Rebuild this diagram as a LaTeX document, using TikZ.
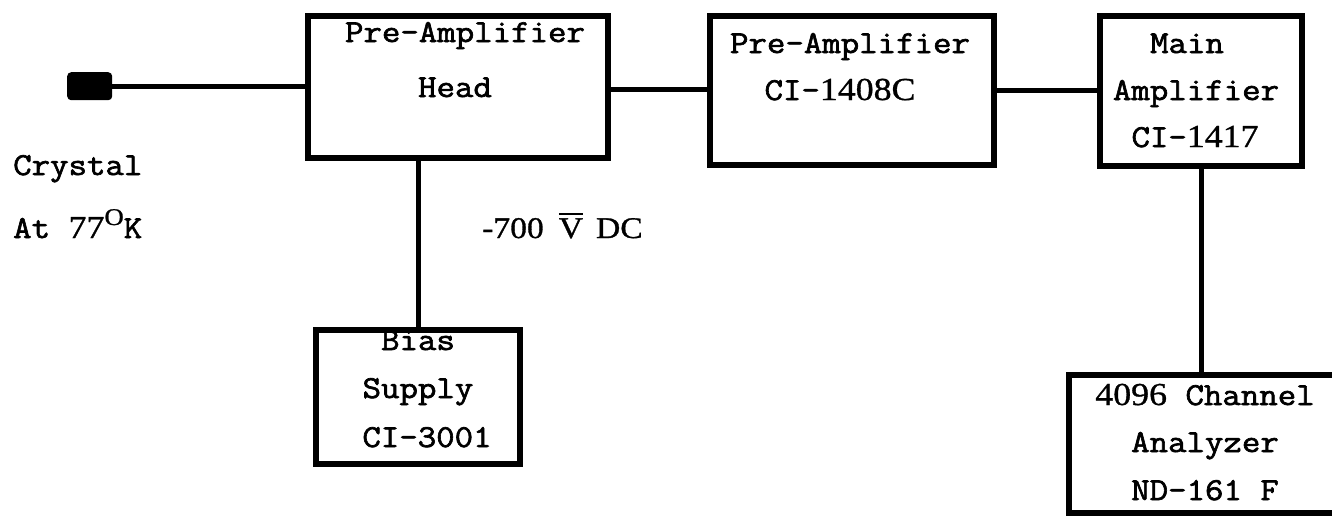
\documentclass[tikz,border=0pt]{standalone}
\usepackage{fontspec}
\setmonofont{Latin Modern Mono}[FakeStretch=1.12, FakeBold=2]
\newfontfamily\oddfont{Liberation Serif}[FakeStretch=1.12, FakeBold=1]
\newcommand\oddig[1]{{\oddfont\fontsize{32}{32}\selectfont #1}}
\newcommand\barredV{{\setbox0\hbox{V}\rlap{\raisebox{\dimexpr\ht0+3pt\relax}{\rule{\wd0}{2.2pt}}}\box0}}
\begin{document}
\begin{tikzpicture}[x=1pt,y=-1pt,
  blk/.style={draw, line width=6pt, rectangle, inner sep=0pt, anchor=north west},
  wire/.style={line width=5pt},
  mono/.style={font=\ttfamily\fontsize{32}{32}\selectfont, anchor=base, inner sep=0pt},
  monow/.style={mono, anchor=base west}]
\clip (0,0) rectangle (1332,515);
\fill[white] (0,0) rectangle (1332,515);
% crystal
\node[fill=black, rounded corners=4pt, minimum width=45pt, minimum height=28pt, inner sep=0pt, anchor=north west] (crystal) at (67,72) {};
% boxes
\node[blk, minimum width=300pt, minimum height=142pt] (head) at (305,13) {};
\node[blk, minimum width=284pt, minimum height=149pt] (pre) at (707,13) {};
\node[blk, minimum width=202pt, minimum height=150pt] (main) at (1097,13) {};
\node[blk, minimum width=204pt, minimum height=134pt] (bias) at (313,327) {};
\node[blk, minimum width=280pt, minimum height=138pt] (ana) at (1066,372) {};
% helper coordinates
\coordinate (y1) at (0,86);
\coordinate (y2) at (0,89);
\coordinate (y3) at (0,90);
% connectors
\draw[wire] (crystal.east |- y1) -- (head.west |- y1);
\draw[wire] (head.east |- y2) -- (pre.west |- y2);
\draw[wire] (pre.east |- y3) -- (main.west |- y3);
\draw[wire] (bias.north) -- (bias.north |- head.south);
\draw[wire] (main.south) -- (main.south |- ana.north);
% texts
\node[mono] (t1) at (465,42) {Pre-Amplifier};
\node[mono] (t2) at (455,97) {Head};
\node[mono] (t3) at (850,53) {Pre-Amplifier};
\node[mono] (t4) at (840,100) {CI-\oddig{1408C}};
\node[mono] (t5) at (1187,53) {Main};
\node[mono] (t6) at (1196,100) {Amplifier};
\node[mono] (t7) at (1195,147) {CI-\oddig{1417}};
\node[mono] (t8) at (418,350) {Bias};
\node[mono] (t9) at (418,398) {Supply};
\node[mono] (t10) at (427,447) {CI-3001};
\node[mono] (t11) at (1205,405) {\oddig{4096} Channel};
\node[mono] (t12) at (1205,452) {Analyzer};
\node[mono] (t13) at (1205,500) {ND-161 F};
\node[monow] (t14) at (13,175) {Crystal};
\node[monow] (t15) at (13,238) {At \oddig{77}\raisebox{13pt}{\oddfont\fontsize{24}{24}\selectfont O}K};
\node[anchor=base west, inner sep=0pt, font=\oddfont\fontsize{30}{30}\selectfont] (t16) at (482,238) {-700\hspace{15pt}\barredV\hspace{13pt}DC};
\end{tikzpicture}
\end{document}
